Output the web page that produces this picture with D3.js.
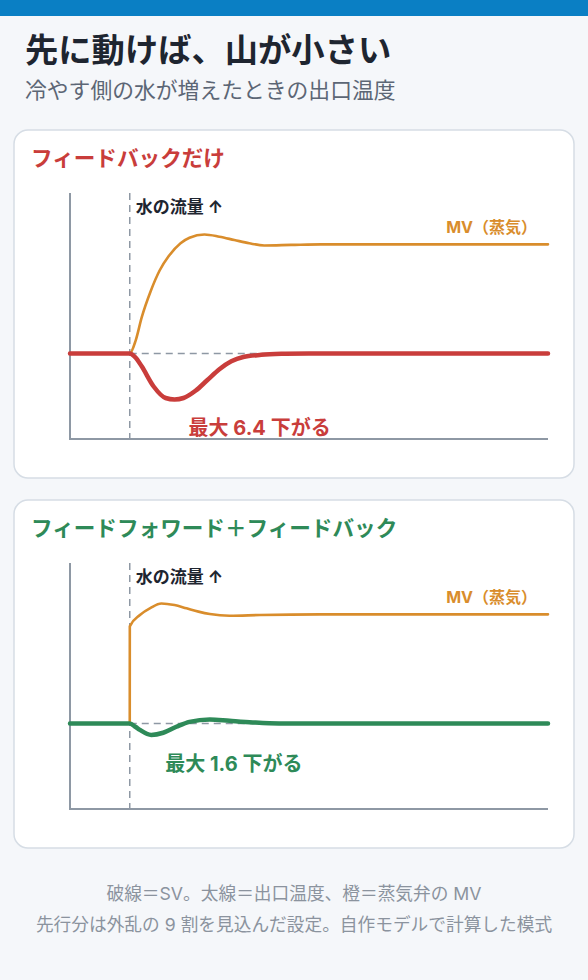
<!DOCTYPE html>
<meta charset="utf-8">
<head>
<style>
body {
  margin: 0;
  background: #f5f7fa;
}
text {
  font-family: Inter, "Noto Sans CJK JP", "Noto Sans", sans-serif;
}
</style>
</head>
<body>
<div id="chart"></div>
<script src="https://cdn.jsdelivr.net/npm/d3@7"></script>
<script>

// time is counted from the step in the water flow (t = 0)
var fbPvTime = [-10, 0, 1, 2, 4, 6, 7.5, 9, 11, 13, 15, 17, 19, 22, 26, 30, 70];
var fbPv     = [0, 0, -0.6, -1.8, -4.6, -6.2, -6.4, -6.2, -5.2, -3.7, -2.2, -1.1, -0.5, -0.2, -0.05, 0, 0];
var fbMvTime = [-10, 0, 1, 2, 3.5, 5, 6.5, 8.5, 10, 12.5, 15, 17.5, 20, 22.5, 27, 32, 70];
var fbMv     = [0, 0, 12, 33, 57, 76, 89, 101, 106, 109, 107, 104, 101, 99, 99.5, 100, 100];

var ffPvTime = [-10, 0, 1, 1.7, 3.6, 5.6, 7.8, 10, 13.4, 16.7, 20.6, 25, 70];
var ffPv     = [0, 0, -0.5, -0.9, -1.6, -1.3, -0.47, 0.22, 0.56, 0.36, 0.14, 0, 0];
var ffMvTime = [-10, 0, 0.01, 1.7, 3.5, 5.3, 7.5, 9.5, 11.5, 13.4, 16.7, 21.8, 31.8, 70];
var ffMv     = [0, 0, 89, 99.4, 106, 110, 108.5, 105.5, 102.5, 100.3, 98.7, 99.4, 100, 100];

var panelTitles = ["フィードバックだけ", "フィードフォワード＋フィードバック"];
var peakLabels = ["最大 6.4 下がる", "最大 1.6 下がる"];
var panelColors = ["#c93d3b", "#2e8a58"];
var mvLabel = "MV（蒸気）";
var stepLabel = "水の流量 ↑";
var footLines = ["破線＝SV。太線＝出口温度、橙＝蒸気弁の MV",
                 "先行分は外乱の 9 割を見込んだ設定。自作モデルで計算した模式"];

var W = 588, H = 980;
var axisColor = "#8e98a4", mvColor = "#d98d2c";

var svg = d3.select("#chart")
  .append("svg")
    .attr("width", W)
    .attr("height", H);

svg.append("rect")
  .attr("width", W).attr("height", 16)
  .attr("fill", "#0a7fc4");

svg.append("text")
  .attr("x", 25).attr("y", 62)
  .style("font-size", "33.3px").style("font-weight", 700)
  .attr("fill", "#1e2530")
  .text("先に動けば、山が小さい");

svg.append("text")
  .attr("x", 25).attr("y", 98)
  .style("font-size", "21.8px")
  .attr("fill", "#5c6675")
  .text("冷やす側の水が増えたときの出口温度");

var x = d3.scaleLinear().domain([-10, 70]).range([70, 548]);

function drawPanel(top, i, pvTime, pv, mvTime, mv) {
  var g = svg.append("g");
  var color = panelColors[i];

  g.append("rect")
    .attr("x", 14).attr("y", top)
    .attr("width", 560).attr("height", 348)
    .attr("rx", 14)
    .attr("fill", "white")
    .attr("stroke", "#d6dde5")
    .attr("stroke-width", 1.5);

  g.append("text")
    .attr("x", 31).attr("y", top + 36)
    .style("font-size", "21.6px").style("font-weight", 700)
    .attr("fill", color)
    .text(panelTitles[i]);

  var y = d3.scaleLinear().domain([-11.9, 22.3]).range([top + 309, top + 63]);
  var yMv = d3.scaleLinear().domain([0, 100]).range([y(0), y(15.16)]);

  // axes without ticks
  g.append("line")
    .attr("x1", x(-10)).attr("x2", x(-10))
    .attr("y1", y.range()[1]).attr("y2", y.range()[0])
    .attr("stroke", axisColor).attr("stroke-width", 2);
  g.append("line")
    .attr("x1", x(-10) - 1).attr("x2", x(70))
    .attr("y1", y.range()[0]).attr("y2", y.range()[0])
    .attr("stroke", axisColor).attr("stroke-width", 2);

  // step marker and SV
  g.append("line")
    .attr("x1", x(0)).attr("x2", x(0))
    .attr("y1", y.range()[1]).attr("y2", y.range()[0])
    .attr("stroke", axisColor).attr("stroke-width", 1.5)
    .attr("stroke-dasharray", "7,5");
  g.append("line")
    .attr("x1", x(0)).attr("x2", x(70))
    .attr("y1", y(0)).attr("y2", y(0))
    .attr("stroke", axisColor).attr("stroke-width", 1.5)
    .attr("stroke-dasharray", "7,5");

  g.append("text")
    .attr("x", x(0) + 6).attr("y", top + 83)
    .style("font-size", "17px").style("font-weight", 700)
    .attr("fill", "#1e2530")
    .text(stepLabel);

  var mvLine = d3.line()
    .x(function(d, j) { return x(mvTime[j]); })
    .y(function(d) { return yMv(d); })
    .curve(d3.curveMonotoneX);
  g.append("path")
    .attr("d", mvLine(mv))
    .attr("fill", "none")
    .attr("stroke", mvColor)
    .attr("stroke-width", 2.6)
    .attr("stroke-linecap", "round");

  g.append("text")
    .attr("x", x(70) - 11).attr("y", yMv(100) - 11)
    .attr("text-anchor", "end")
    .style("font-size", "16px").style("font-weight", 700)
    .attr("fill", mvColor)
    .text(mvLabel);

  var pvLine = d3.line()
    .x(function(d, j) { return x(pvTime[j]); })
    .y(function(d) { return y(d); })
    .curve(d3.curveMonotoneX);
  g.append("path")
    .attr("d", pvLine(pv))
    .attr("fill", "none")
    .attr("stroke", color)
    .attr("stroke-width", 4.5)
    .attr("stroke-linecap", "round");

  // label placed under the deepest point
  var k = d3.minIndex(pv);
  g.append("text")
    .attr("x", x(pvTime[k]) + 14).attr("y", y(pv[k]) + 36)
    .style("font-size", "20px").style("font-weight", 700)
    .attr("fill", color)
    .text(peakLabels[i]);
}

drawPanel(130, 0, fbPvTime, fbPv, fbMvTime, fbMv);
drawPanel(500, 1, ffPvTime, ffPv, ffMvTime, ffMv);

svg.selectAll(".foot")
  .data(footLines)
  .enter()
  .append("text")
    .attr("class", "foot")
    .attr("x", W / 2)
    .attr("y", function(d, i) { return 900 + i * 31; })
    .attr("text-anchor", "middle")
    .style("font-size", "17.7px")
    .attr("fill", "#8b939e")
    .text(function(d) { return d; });

</script>
</body>
